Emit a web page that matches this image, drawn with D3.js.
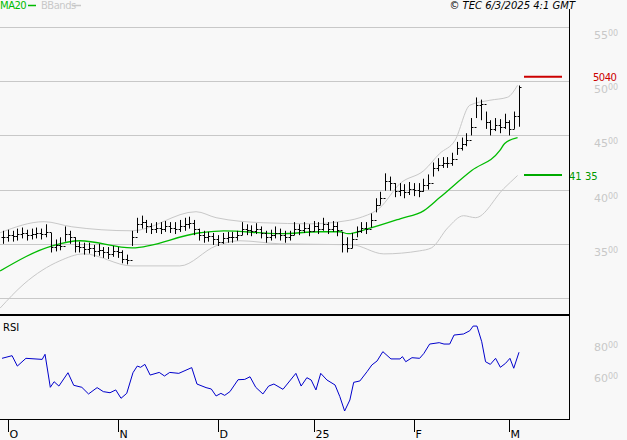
<!DOCTYPE html>
<html><head><meta charset="utf-8">
<script src="https://cdn.jsdelivr.net/npm/d3@7/dist/d3.min.js"></script>
<style>body{margin:0;background:#f8f8f8}svg{display:block}text{font-family:"DejaVu Sans",sans-serif}</style>
</head><body><svg id="c" width="627" height="440"></svg>
<script>
const closes=[3560,3580,3570,3590,3600,3580,3590,3600,3590,3610,3470,3490,3480,3590,3560,3480,3470,3450,3460,3430,3440,3420,3410,3430,3420,3360,3350,3560,3680,3700,3660,3640,3650,3640,3660,3650,3640,3660,3680,3690,3640,3580,3560,3570,3540,3520,3550,3560,3560,3580,3640,3630,3620,3640,3600,3560,3580,3600,3580,3560,3580,3640,3630,3650,3620,3660,3640,3680,3640,3660,3630,3500,3460,3540,3620,3650,3640,3720,3860,3920,4080,4060,3990,4000,3980,4010,4000,3990,4040,4060,4200,4230,4250,4250,4280,4380,4420,4460,4580,4780,4790,4620,4560,4600,4580,4620,4560,4680,4950];
const highs=[3620,3630,3620,3640,3650,3630,3640,3650,3640,3680,3600,3540,3560,3660,3620,3560,3520,3510,3510,3490,3500,3470,3470,3480,3470,3440,3400,3620,3740,3760,3720,3690,3700,3700,3710,3700,3700,3720,3740,3750,3720,3640,3620,3610,3600,3580,3600,3610,3610,3620,3700,3680,3670,3690,3660,3620,3630,3660,3640,3620,3620,3700,3680,3700,3680,3710,3700,3740,3700,3710,3700,3610,3560,3600,3660,3700,3700,3780,3920,3980,4150,4120,4060,4060,4050,4070,4060,4060,4100,4140,4250,4290,4300,4300,4340,4440,4480,4520,4660,4850,4830,4720,4640,4660,4650,4700,4640,4720,4960];
const lows=[3500,3520,3520,3530,3550,3530,3540,3550,3540,3560,3420,3430,3440,3520,3500,3420,3420,3400,3410,3380,3390,3370,3360,3380,3370,3320,3310,3480,3600,3640,3600,3590,3600,3590,3610,3600,3590,3610,3620,3640,3580,3530,3510,3520,3490,3480,3500,3510,3510,3530,3580,3580,3570,3590,3550,3510,3530,3550,3530,3510,3530,3580,3580,3600,3570,3610,3590,3620,3590,3610,3570,3420,3420,3460,3560,3600,3590,3650,3790,3860,3990,3990,3930,3940,3920,3950,3940,3930,3980,4000,4120,4170,4200,4200,4220,4320,4360,4400,4500,4660,4640,4560,4500,4540,4520,4560,4500,4560,4580];
const maDay=[-0.6,10.3,16.1,27,41.2,46.2,58,66.3,70.5,72.2,76.4,83.1,88.1,91.4,98.1,104,105,107.7];
const maVal=[3250,3481,3528,3463,3602,3620,3593,3611,3611,3593,3639,3731,3806,3926,4176,4361,4426,4480];
const upDay=[-0.6,8.6,14.4,27,40.4,44.6,54.6,64.6,70.5,74.7,78.9,83.1,88.1,91.4,94.6,97.7,101.9,105.6,107.7];
const upVal=[3602,3704,3657,3620,3796,3741,3694,3685,3704,3741,3833,4056,4176,4333,4454,4778,4824,4852,4963];
const loDay=[-0.6,4.4,11.9,16.9,27,37,44.6,49.6,58,73,79.7,87.2,89.7,93.1,96.4,98.9,104.8,107.7];
const loVal=[2907,3130,3343,3407,3296,3296,3481,3528,3500,3491,3407,3435,3463,3648,3759,3741,4009,4130];
const rsiDay=[-0.2,1.9,3.0,4.8,8.2,8.8,9.9,10.7,11.7,13.6,14.8,16.5,17.9,19.7,21.0,22.4,23.6,24.7,25.9,27.2,28.1,28.8,29.7,30.8,32.7,33.8,34.9,36.8,39.5,40.6,42.5,43.6,44.6,45.6,46.4,47.5,49.2,50.6,51.7,52.9,54.4,55.6,56.7,58.6,61.3,62.4,63.6,64.5,65.5,66.5,67.8,69.5,70.5,71.5,72.6,73.4,74.7,76.2,77.2,78.3,79.5,81.2,83.1,83.6,84.3,85.6,87.2,88.1,89.3,91.3,92.3,93.5,94.4,96.4,97.7,98.4,99.2,100.2,101.0,102.0,103.1,104.1,105.2,106.1,106.9,108.0];
const rsiVal=[72.7,74.4,67.7,72.7,72.0,75.3,54.0,57.6,54.8,63.4,55.3,54.0,49.7,53.8,51.2,50.5,52.3,46.9,50.1,63.4,67.7,66.9,68.8,61.9,63.6,61.3,63.6,63.0,66.7,56.1,53.8,52.9,48.4,50.1,48.8,51.2,58.9,59.1,60.8,54.0,49.7,54.8,56.1,52.7,63.0,54.8,60.2,58.7,52.3,63.0,58.7,55.5,48.0,38.7,45.8,57.2,58.1,64.1,68.4,71.0,77.0,72.3,72.3,73.8,70.5,73.1,72.7,75.9,81.9,82.8,81.9,81.9,87.7,88.4,90.5,93.5,93.5,83.4,70.5,68.8,72.7,66.9,69.5,72.7,66.3,76.6];
const priceTicks=[3000,3500,4000,4500,5000,5500];
const rsiTicks=[60,80];
const monthLabels=["O","N","D","25","F","M"];
const monthDays=[1,24,45,65,86,106];
const lastClose=5040, ma20Last=4135;

const svg=d3.select("#c");
svg.append("rect").attr("width",627).attr("height",440).attr("fill","#f8f8f8");
const x=d3.scaleLinear().domain([0,108]).range([3,519]);
const y=d3.scaleLinear().domain([3000,5500]).range([298,27]);
const yr=d3.scaleLinear().domain([60,80]).range([378,347]);
svg.append("clipPath").attr("id","cp").append("rect").attr("x",0).attr("y",10).attr("width",569).attr("height",304);
svg.append("clipPath").attr("id","cr").append("rect").attr("x",0).attr("y",316).attr("width",569).attr("height",103);
svg.append("g").selectAll("line").data(priceTicks).join("line")
 .attr("x1",0).attr("x2",569).attr("y1",d=>Math.round(y(d))+.5).attr("y2",d=>Math.round(y(d))+.5).attr("stroke","#c8c8c8");
const lab=svg.append("g").attr("fill","#c8c8c8").attr("font-size",11);
priceTicks.filter(d=>d>3000).forEach(d=>{const t=lab.append("text").attr("x",594).attr("y",Math.round(y(d))+12);
 t.append("tspan").text(String(d).slice(0,2));t.append("tspan").attr("font-size",8).attr("dy",-3).text(String(d).slice(2));});
rsiTicks.forEach(d=>{const t=lab.append("text").attr("x",594).attr("y",yr(d)+4);
 t.append("tspan").text(d);t.append("tspan").attr("font-size",8).attr("dy",-3).text("00");});
const gp=svg.append("g").attr("clip-path","url(#cp)");
const ln=d3.line().x(d=>x(d[0])).y(d=>y(d[1])).curve(d3.curveMonotoneX);
gp.append("path").attr("d",ln(d3.zip(upDay,upVal))).attr("fill","none").attr("stroke","#c8c8c8");
gp.append("path").attr("d",ln(d3.zip(loDay,loVal))).attr("fill","none").attr("stroke","#c8c8c8");
gp.append("path").attr("d",ln(d3.zip(maDay,maVal))).attr("fill","none").attr("stroke","#00bb00").attr("stroke-width",1.3);
closes.forEach((c,i)=>{const xx=Math.round(x(i))+.5;const o=i?closes[i-1]:c;
 gp.append("line").attr("x1",xx).attr("x2",xx).attr("y1",y(highs[i])).attr("y2",y(lows[i])).attr("stroke","#000");
 gp.append("line").attr("x1",xx-2).attr("x2",xx).attr("y1",Math.round(y(o))+.5).attr("y2",Math.round(y(o))+.5).attr("stroke","#000");
 gp.append("line").attr("x1",xx).attr("x2",xx+2).attr("y1",Math.round(y(c))+.5).attr("y2",Math.round(y(c))+.5).attr("stroke","#000");});
svg.append("line").attr("x1",524).attr("x2",562).attr("y1",y(lastClose)).attr("y2",y(lastClose)).attr("stroke","#cc0000").attr("stroke-width",2);
svg.append("text").attr("x",593).attr("y",y(lastClose)+4).attr("fill","#cc0000").attr("font-size",10).attr("letter-spacing",-0.5).text("5040");
svg.append("line").attr("x1",524).attr("x2",562).attr("y1",y(ma20Last)).attr("y2",y(ma20Last)).attr("stroke","#00aa00").attr("stroke-width",2);
svg.append("text").attr("x",569).attr("y",y(ma20Last)+5).attr("fill","#009900").attr("font-size",10).text("41 35");
const gr=svg.append("g").attr("clip-path","url(#cr)");
gr.append("path").attr("d",d3.line().x(d=>x(d[0])).y(d=>yr(d[1]))(d3.zip(rsiDay,rsiVal))).attr("fill","none").attr("stroke","#0000cc");
svg.append("text").attr("x",3).attr("y",331).attr("font-size",10).attr("fill","#000").text("RSI");
svg.append("line").attr("x1",0).attr("x2",569).attr("y1",315).attr("y2",315).attr("stroke","#000").attr("stroke-width",2);
svg.append("line").attr("x1",0).attr("x2",569).attr("y1",419.5).attr("y2",419.5).attr("stroke","#000");
svg.append("line").attr("x1",569.5).attr("x2",569.5).attr("y1",9).attr("y2",420).attr("stroke","#000");
monthDays.forEach((d,k)=>{const xx=Math.round(x(d))+.5;
 svg.append("line").attr("x1",xx).attr("x2",xx).attr("y1",420).attr("y2",432).attr("stroke","#000");
 svg.append("text").attr("x",xx+1).attr("y",438).attr("font-size",11).text(monthLabels[k]);});
svg.append("text").attr("x",0).attr("y",9).attr("font-size",10).attr("letter-spacing",-0.5).attr("fill","#00bb00").text("MA20");
svg.append("line").attr("x1",28).attr("x2",36).attr("y1",5.5).attr("y2",5.5).attr("stroke","#00bb00").attr("stroke-width",1.5);
svg.append("text").attr("x",41).attr("y",9).attr("font-size",10).attr("letter-spacing",-0.5).attr("fill","#c8c8c8").text("BBands");
svg.append("line").attr("x1",72).attr("x2",81).attr("y1",5.5).attr("y2",5.5).attr("stroke","#c8c8c8").attr("stroke-width",1.5);
svg.append("text").attr("x",575).attr("y",9).attr("text-anchor","end").attr("font-size",10).attr("font-style","italic").text("© TEC 6/3/2025 4:1 GMT");
</script></body></html>
